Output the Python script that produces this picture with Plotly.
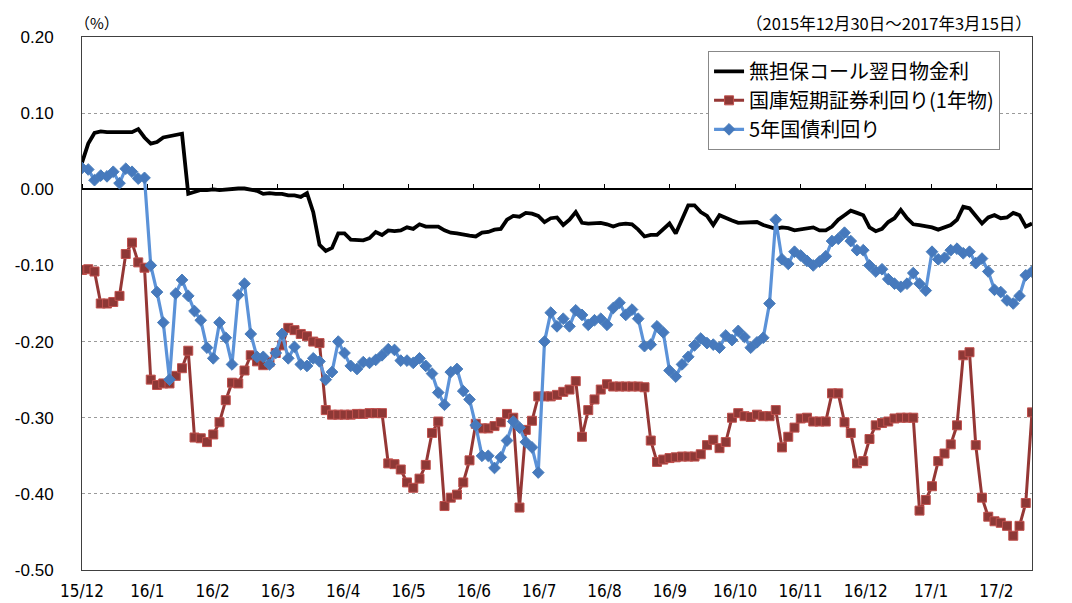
import plotly.graph_objects as go

# ---- data (business-day index, sampled every 2 days) ----
day = list(range(0, 305, 2))

call_rate = [
    0.035, 0.060, 0.074, 0.076, 0.075, 0.075, 0.074, 0.075, 0.075, 0.079,
    0.068, 0.060, 0.062, 0.068, 0.070, 0.072, 0.073, -0.006, -0.003, -0.001,
    -0.001, 0.000, -0.001, 0.000, 0.000, 0.001, 0.001, -0.001, -0.002, -0.006,
    -0.005, -0.006, -0.006, -0.008, -0.008, -0.010, -0.005, -0.030, -0.073, -0.081,
    -0.077, -0.058, -0.058, -0.066, -0.067, -0.067, -0.064, -0.056, -0.060, -0.054,
    -0.055, -0.054, -0.050, -0.052, -0.046, -0.049, -0.049, -0.049, -0.054, -0.057,
    -0.058, -0.060, -0.061, -0.062, -0.057, -0.056, -0.053, -0.052, -0.040, -0.035,
    -0.036, -0.031, -0.032, -0.035, -0.043, -0.038, -0.037, -0.047, -0.040, -0.030,
    -0.044, -0.045, -0.045, -0.044, -0.046, -0.049, -0.046, -0.045, -0.046, -0.053,
    -0.062, -0.060, -0.060, -0.052, -0.045, -0.058, -0.040, -0.021, -0.021, -0.030,
    -0.035, -0.047, -0.034, -0.038, -0.041, -0.044, -0.044, -0.043, -0.043, -0.047,
    -0.050, -0.052, -0.050, -0.051, -0.054, -0.053, -0.052, -0.050, -0.054, -0.054,
    -0.049, -0.040, -0.034, -0.028, -0.031, -0.034, -0.050, -0.055, -0.052, -0.043,
    -0.038, -0.027, -0.038, -0.046, -0.047, -0.048, -0.050, -0.053, -0.050, -0.047,
    -0.040, -0.023, -0.025, -0.035, -0.045, -0.037, -0.034, -0.038, -0.037, -0.031,
    -0.034, -0.049, -0.045,
]

tbill_1y = [
    -0.106, -0.105, -0.108, -0.150, -0.150, -0.148, -0.140, -0.085, -0.070, -0.096,
    -0.103, -0.250, -0.257, -0.255, -0.255, -0.245, -0.235, -0.212, -0.326, -0.327,
    -0.332, -0.322, -0.306, -0.277, -0.254, -0.255, -0.238, -0.218, -0.226, -0.231,
    -0.227, -0.215, -0.205, -0.182, -0.185, -0.190, -0.193, -0.200, -0.202, -0.290,
    -0.296, -0.296, -0.296, -0.296, -0.295, -0.295, -0.294, -0.294, -0.294, -0.360,
    -0.361, -0.368, -0.385, -0.392, -0.380, -0.362, -0.320, -0.305, -0.416, -0.405,
    -0.401, -0.385, -0.356, -0.308, -0.314, -0.314, -0.311, -0.306, -0.295, -0.300,
    -0.418, -0.316, -0.304, -0.272, -0.272, -0.272, -0.270, -0.266, -0.263, -0.252,
    -0.325, -0.290, -0.276, -0.263, -0.256, -0.259, -0.259, -0.259, -0.259, -0.259,
    -0.260, -0.330, -0.358, -0.355, -0.353, -0.352, -0.351, -0.351, -0.351, -0.348,
    -0.336, -0.329, -0.340, -0.332, -0.300, -0.294, -0.298, -0.299, -0.296, -0.298,
    -0.298, -0.290, -0.339, -0.325, -0.313, -0.301, -0.300, -0.305, -0.305, -0.305,
    -0.268, -0.268, -0.306, -0.320, -0.360, -0.357, -0.328, -0.310, -0.307, -0.305,
    -0.301, -0.300, -0.300, -0.300, -0.422, -0.408, -0.390, -0.357, -0.347, -0.335,
    -0.310, -0.218, -0.214, -0.336, -0.405, -0.430, -0.436, -0.438, -0.442, -0.455,
    -0.442, -0.412, -0.293,
]

jgb_5y = [
    0.028, 0.026, 0.012, 0.018, 0.017, 0.023, 0.008, 0.027, 0.023, 0.014,
    0.015, -0.100, -0.135, -0.175, -0.250, -0.137, -0.119, -0.140, -0.160, -0.172,
    -0.208, -0.222, -0.175, -0.195, -0.230, -0.139, -0.124, -0.190, -0.220, -0.220,
    -0.230, -0.215, -0.190, -0.222, -0.207, -0.230, -0.232, -0.222, -0.226, -0.250,
    -0.240, -0.200, -0.215, -0.232, -0.236, -0.227, -0.228, -0.224, -0.218, -0.210,
    -0.211, -0.225, -0.225, -0.228, -0.222, -0.232, -0.242, -0.267, -0.283, -0.240,
    -0.236, -0.265, -0.276, -0.310, -0.350, -0.350, -0.366, -0.352, -0.330, -0.305,
    -0.313, -0.332, -0.339, -0.372, -0.200, -0.162, -0.180, -0.170, -0.180, -0.159,
    -0.165, -0.178, -0.172, -0.170, -0.178, -0.156, -0.149, -0.165, -0.158, -0.170,
    -0.206, -0.204, -0.180, -0.188, -0.238, -0.246, -0.230, -0.220, -0.205, -0.196,
    -0.202, -0.204, -0.208, -0.192, -0.198, -0.186, -0.194, -0.208, -0.201, -0.195,
    -0.150, -0.040, -0.092, -0.098, -0.082, -0.087, -0.094, -0.100, -0.095, -0.088,
    -0.068, -0.065, -0.057, -0.068, -0.080, -0.080, -0.100, -0.108, -0.105, -0.118,
    -0.124, -0.128, -0.124, -0.110, -0.124, -0.133, -0.082, -0.092, -0.090, -0.080,
    -0.078, -0.084, -0.082, -0.097, -0.091, -0.108, -0.132, -0.135, -0.146, -0.150,
    -0.140, -0.113, -0.108,
]

month_labels = ["15/12", "16/1", "16/2", "16/3", "16/4", "16/5", "16/6", "16/7",
                "16/8", "16/9", "16/10", "16/11", "16/12", "17/1", "17/2"]
month_pos = [i * 20.9 for i in range(len(month_labels))]

y_ticks = [0.20, 0.10, 0.00, -0.10, -0.20, -0.30, -0.40, -0.50]
y_labels = ["0.20", "0.10", "0.00", "-0.10", "-0.20", "-0.30", "-0.40", "-0.50"]

names = ["無担保コール翌日物金利", "国庫短期証券利回り(1年物)", "5年国債利回り"]

JP = "Noto Sans CJK JP"

fig = go.Figure()
fig.add_trace(go.Scatter(
    x=day, y=call_rate, name=names[0], mode="lines",
    line=dict(color="#000000", width=3.8),
))
fig.add_trace(go.Scatter(
    x=day, y=tbill_1y, name=names[1], mode="lines+markers",
    line=dict(color="#953735", width=3),
    marker=dict(symbol="square", size=9, color="#8E3836",
                line=dict(color="#C0504D", width=1)),
))
fig.add_trace(go.Scatter(
    x=day, y=jgb_5y, name=names[2], mode="lines+markers",
    line=dict(color="#5B92D8", width=3.2),
    marker=dict(symbol="diamond", size=9, color="#4679BD",
                line=dict(color="#4A7EBB", width=1)),
))
# helper trace so the zero-line tick axis is drawn
fig.add_trace(go.Scatter(x=[None], y=[None], xaxis="x2", showlegend=False,
                         hoverinfo="skip"))

fig.update_layout(
    width=1064, height=595,
    margin=dict(l=74, r=40, t=29, b=33),
    paper_bgcolor="white", plot_bgcolor="white",
    showlegend=True,
    legend=dict(x=0.659, y=0.974, xanchor="left", yanchor="top",
                bgcolor="white", bordercolor="#888888", borderwidth=1,
                font=dict(family=JP, size=20, color="black"),
                tracegroupgap=0, itemwidth=30),
    xaxis=dict(range=[0, 304], tickvals=month_pos, ticktext=month_labels,
               showgrid=False, zeroline=False, ticks="", automargin=False,
               showline=True, linecolor="#404040", linewidth=1, mirror=True,
               tickfont=dict(family="DejaVu Sans Condensed, sans-serif",
                             size=17, color="black"),
               ticklabelstandoff=6),
    xaxis2=dict(overlaying="x", anchor="free", position=5 / 7, side="top",
                range=[0, 304], tickvals=month_pos, ticks="outside", ticklen=5,
                tickcolor="black", tickwidth=1, showticklabels=False,
                automargin=False,
                showgrid=False, showline=False, zeroline=False),
    yaxis=dict(range=[-0.5, 0.2], tickvals=y_ticks, ticktext=y_labels,
               showgrid=True, gridcolor="#9A9A9A", griddash="dot", gridwidth=1,
               zeroline=True, zerolinecolor="black", zerolinewidth=1.5,
               showline=True, linecolor="#404040", linewidth=1, mirror=True,
               ticks="", ticklabelstandoff=24, automargin=False,
               tickfont=dict(family="Liberation Sans, Arial, sans-serif",
                             size=17, color="black")),
    annotations=[
        dict(text="（%）", xref="paper", yref="paper", x=0.016, y=1.028,
             xanchor="center", yanchor="middle", showarrow=False,
             font=dict(family=JP, size=15, color="black")),
        dict(text="（2015年12月30日～2017年3月15日）", xref="paper", yref="paper",
             x=1.002, y=1.026, xanchor="right", yanchor="middle", showarrow=False,
             font=dict(family=JP, size=16.5, color="black")),
    ],
)

fig.write_html("out.html")
